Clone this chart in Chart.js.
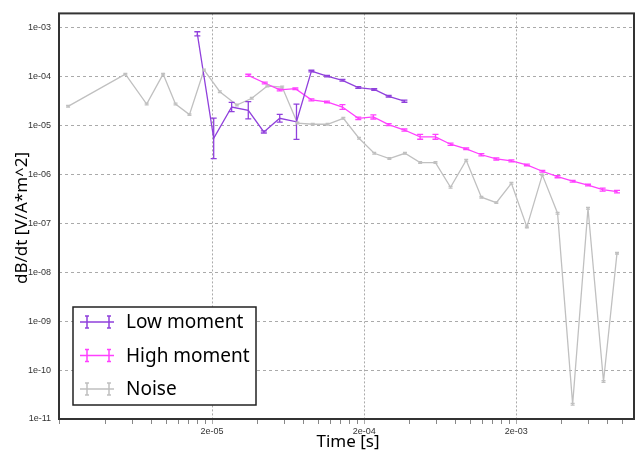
<!DOCTYPE html>
<html>
<head>
<meta charset="utf-8">
<script src="https://cdn.jsdelivr.net/npm/chart.js@4.4.1/dist/chart.umd.min.js"></script>
<style>
  html, body { margin: 0; padding: 0; background: #fff; }
  #wrap { width: 636px; height: 452px; }
</style>
</head>
<body>
<div id="wrap"><canvas id="myChart" width="636" height="452"></canvas></div>
<script>
// data (log-log)
var lowTime = [1.6e-5, 2.05e-5, 2.69e-5, 3.46e-5, 4.38e-5, 5.57e-5, 7.18e-5, 9.0e-5, 1.14e-4, 1.44e-4, 1.83e-4, 2.33e-4, 2.9e-4, 3.68e-4];
var lowValue = [7.4e-4, 5.4e-6, 2.36e-5, 2.02e-5, 7.3e-6, 1.39e-5, 1.18e-5, 1.28e-4, 1.01e-4, 8.3e-5, 5.9e-5, 5.4e-5, 3.9e-5, 3.1e-5];
var lowErrFactor = [1.1, 2.6, 1.24, 1.5, 1.05, 1.2, 2.3, 1.04, 1.04, 1.04, 1.04, 1.04, 1.04, 1.05];

var highTime = [3.46e-5, 4.44e-5, 5.57e-5, 7.06e-5, 9.0e-5, 1.14e-4, 1.44e-4, 1.83e-4, 2.3e-4, 2.9e-4, 3.68e-4, 4.67e-4, 5.89e-4, 7.4e-4, 9.38e-4, 1.18e-3, 1.48e-3, 1.86e-3, 2.35e-3, 2.97e-3, 3.74e-3, 4.7e-3, 5.93e-3, 7.4e-3, 9.2e-3];
var highValue = [1.05e-4, 7.3e-5, 5.3e-5, 5.6e-5, 3.3e-5, 3.0e-5, 2.36e-5, 1.39e-5, 1.48e-5, 1.03e-5, 8.0e-6, 5.8e-6, 5.8e-6, 4.1e-6, 3.3e-6, 2.5e-6, 2.05e-6, 1.87e-6, 1.55e-6, 1.15e-6, 8.9e-7, 7.2e-7, 6.0e-7, 4.85e-7, 4.4e-7];
var highErrFactor = [1.05, 1.04, 1.05, 1.04, 1.05, 1.04, 1.12, 1.06, 1.1, 1.05, 1.05, 1.12, 1.12, 1.05, 1.04, 1.05, 1.05, 1.05, 1.04, 1.04, 1.05, 1.04, 1.04, 1.07, 1.06];

var noiseTime = [2.26e-6, 5.38e-6, 7.43e-6, 9.53e-6, 1.15e-5, 1.42e-5, 1.77e-5, 2.25e-5, 2.91e-5, 3.65e-5, 4.62e-5, 5.78e-5, 7.28e-5, 9.18e-5, 1.15e-4, 1.46e-4, 1.85e-4, 2.33e-4, 2.93e-4, 3.71e-4, 4.67e-4, 5.89e-4, 7.4e-4, 9.38e-4, 1.18e-3, 1.48e-3, 1.86e-3, 2.35e-3, 2.97e-3, 3.74e-3, 4.7e-3, 5.93e-3, 7.5e-3, 9.2e-3];
var noiseValue = [2.44e-5, 1.11e-4, 2.72e-5, 1.11e-4, 2.72e-5, 1.65e-5, 1.35e-4, 4.85e-5, 2.6e-5, 3.56e-5, 6.34e-5, 6.05e-5, 1.11e-5, 1.05e-5, 1.05e-5, 1.39e-5, 5.43e-6, 2.68e-6, 2.09e-6, 2.68e-6, 1.73e-6, 1.73e-6, 5.43e-7, 1.93e-6, 3.4e-7, 2.63e-7, 6.55e-7, 8.4e-8, 9.7e-7, 1.6e-7, 2.0e-11, 2.02e-7, 5.85e-11, 2.44e-8];
var noiseErrFactor = 1.04;

var seriesNames = ["Low moment", "High moment", "Noise"];
var seriesColors = ["#9040dc", "#ff40ff", "#c0c0c0"];

var xMajor = [2e-5, 2e-4, 2e-3];
var yMajor = [1e-11, 1e-10, 1e-9, 1e-8, 1e-7, 1e-6, 1e-5, 1e-4, 1e-3];

function points(xs, ys) {
  return xs.map(function(x, i) { return { x: x, y: ys[i] }; });
}

function sci(v) {
  var e = Math.floor(Math.log10(v) + 1e-9);
  var m = Math.round(v / Math.pow(10, e));
  var es = Math.abs(e) < 10 ? '0' + Math.abs(e) : '' + Math.abs(e);
  return m + 'e' + (e < 0 ? '-' : '+') + es;
}

function isMajor(list, v) {
  return list.some(function(m) { return Math.abs(m - v) / m < 1e-6; });
}

// vertical error bars with caps
var errorBars = {
  id: 'errorBars',
  afterDatasetsDraw: function(chart) {
    var ctx = chart.ctx;
    var yScale = chart.scales.y;
    ctx.save();
    ctx.beginPath();
    ctx.rect(chart.chartArea.left, chart.chartArea.top, chart.chartArea.right - chart.chartArea.left, chart.chartArea.bottom - chart.chartArea.top);
    ctx.clip();
    chart.data.datasets.forEach(function(ds, di) {
      var meta = chart.getDatasetMeta(di);
      ctx.strokeStyle = ds.borderColor;
      ctx.lineWidth = 1.3;
      meta.data.forEach(function(el, i) {
        var v = ds.data[i].y;
        var f = Array.isArray(ds.errFactor) ? ds.errFactor[i] : ds.errFactor;
        var yTop = yScale.getPixelForValue(v * f);
        var yBot = yScale.getPixelForValue(v / f);
        var x = el.x, w = ds.capHalf;
        ctx.beginPath();
        ctx.moveTo(x, yTop); ctx.lineTo(x, yBot);
        ctx.moveTo(x - w, yTop); ctx.lineTo(x + w, yTop);
        ctx.moveTo(x - w, yBot); ctx.lineTo(x + w, yBot);
        ctx.stroke();
      });
    });
    ctx.restore();
  }
};

// frame, axis titles and legend box
var decorations = {
  id: 'decorations',
  afterDraw: function(chart) {
    var ctx = chart.ctx;
    var a = chart.chartArea;
    ctx.save();
    ctx.strokeStyle = '#333';
    ctx.lineWidth = 2;
    ctx.strokeRect(a.left, a.top, a.right - a.left, a.bottom - a.top);

    ctx.fillStyle = '#000';
    ctx.font = '17px "Noto Sans", "Open Sans", sans-serif';
    ctx.textAlign = 'center';
    ctx.textBaseline = 'middle';
    ctx.fillText('Time [s]', 348, 442);
    ctx.translate(22, 218);
    ctx.rotate(-Math.PI / 2);
    ctx.fillText('dB/dt [V/A*m^2]', 0, 0);
    ctx.restore();

    // legend
    ctx.save();
    ctx.fillStyle = '#fff';
    ctx.fillRect(73, 307, 183, 98);
    ctx.strokeStyle = '#222';
    ctx.lineWidth = 1.5;
    ctx.strokeRect(73, 307, 183, 98);
    ctx.font = '19px "Noto Sans", "Open Sans", sans-serif';
    ctx.textAlign = 'left';
    ctx.textBaseline = 'middle';
    chart.data.datasets.forEach(function(ds, i) {
      var cy = 322 + i * 33.5;
      ctx.strokeStyle = ds.borderColor;
      ctx.lineWidth = 1.5;
      ctx.beginPath();
      ctx.moveTo(80, cy); ctx.lineTo(114, cy);
      [87, 109].forEach(function(cx) {
        ctx.moveTo(cx, cy - 6); ctx.lineTo(cx, cy + 6);
        ctx.moveTo(cx - 2, cy - 6); ctx.lineTo(cx + 2, cy - 6);
        ctx.moveTo(cx - 2, cy + 6); ctx.lineTo(cx + 2, cy + 6);
      });
      ctx.stroke();
      ctx.fillStyle = '#000';
      ctx.fillText(ds.label, 126, cy + 1);
    });
    ctx.restore();
  }
};

var ctx = document.getElementById('myChart').getContext('2d');
window.myChart = new Chart(ctx, {
  type: 'scatter',
  data: {
    datasets: [{
      label: seriesNames[0],
      data: points(lowTime, lowValue),
      errFactor: lowErrFactor,
      capHalf: 3,
      borderColor: seriesColors[0],
      backgroundColor: seriesColors[0]
    }, {
      label: seriesNames[1],
      data: points(highTime, highValue),
      errFactor: highErrFactor,
      capHalf: 3,
      borderColor: seriesColors[1],
      backgroundColor: seriesColors[1]
    }, {
      label: seriesNames[2],
      data: points(noiseTime, noiseValue),
      errFactor: noiseErrFactor,
      capHalf: 2,
      borderColor: seriesColors[2],
      backgroundColor: seriesColors[2]
    }]
  },
  options: {
    responsive: false,
    animation: false,
    showLine: true,
    elements: {
      point: { radius: 0, hoverRadius: 0 },
      line: { borderWidth: 1.3, tension: 0 }
    },
    layout: { padding: { top: 12, right: 2, left: 0, bottom: 0 } },
    plugins: {
      legend: { display: false },
      tooltip: { enabled: false }
    },
    scales: {
      x: {
        type: 'logarithmic',
        min: 1.97e-6,
        max: 1.19e-2,
        afterBuildTicks: function(scale) {
          var t = [];
          [2e-6, 2e-5, 2e-4, 2e-3].forEach(function(base) {
            for (var k = 1; k <= 9; k++) {
              var v = base * k;
              if (v >= scale.min && v <= scale.max) t.push({ value: v });
            }
          });
          scale.ticks = t;
        },
        afterFit: function(scale) { scale.height = 33; },
        border: { display: false, dash: [2, 2] },
        grid: {
          color: function(c) { return isMajor(xMajor, c.tick.value) ? '#aaa' : 'rgba(0,0,0,0)'; },
          tickColor: function(c) { return isMajor(xMajor, c.tick.value) ? '#aaa' : '#888'; },
          tickLength: 5,
          lineWidth: 1
        },
        ticks: {
          autoSkip: false,
          maxRotation: 0,
          padding: 2,
          color: '#333',
          font: { family: '"Liberation Sans", Arial, sans-serif', size: 9 },
          callback: function(v) { return isMajor(xMajor, v) ? sci(v) : ''; }
        }
      },
      y: {
        type: 'logarithmic',
        min: 1e-11,
        max: 1.93e-3,
        afterBuildTicks: function(scale) {
          scale.ticks = yMajor.map(function(v) { return { value: v }; });
        },
        afterFit: function(scale) { scale.width = 59; },
        border: { display: false, dash: [3, 3] },
        grid: {
          color: '#aaa',
          drawTicks: false,
          lineWidth: 1
        },
        ticks: {
          autoSkip: false,
          padding: 8,
          color: '#333',
          font: { family: '"Liberation Sans", Arial, sans-serif', size: 9 },
          callback: function(v) { return sci(v); }
        }
      }
    }
  },
  plugins: [errorBars, decorations]
});
</script>
</body>
</html>
